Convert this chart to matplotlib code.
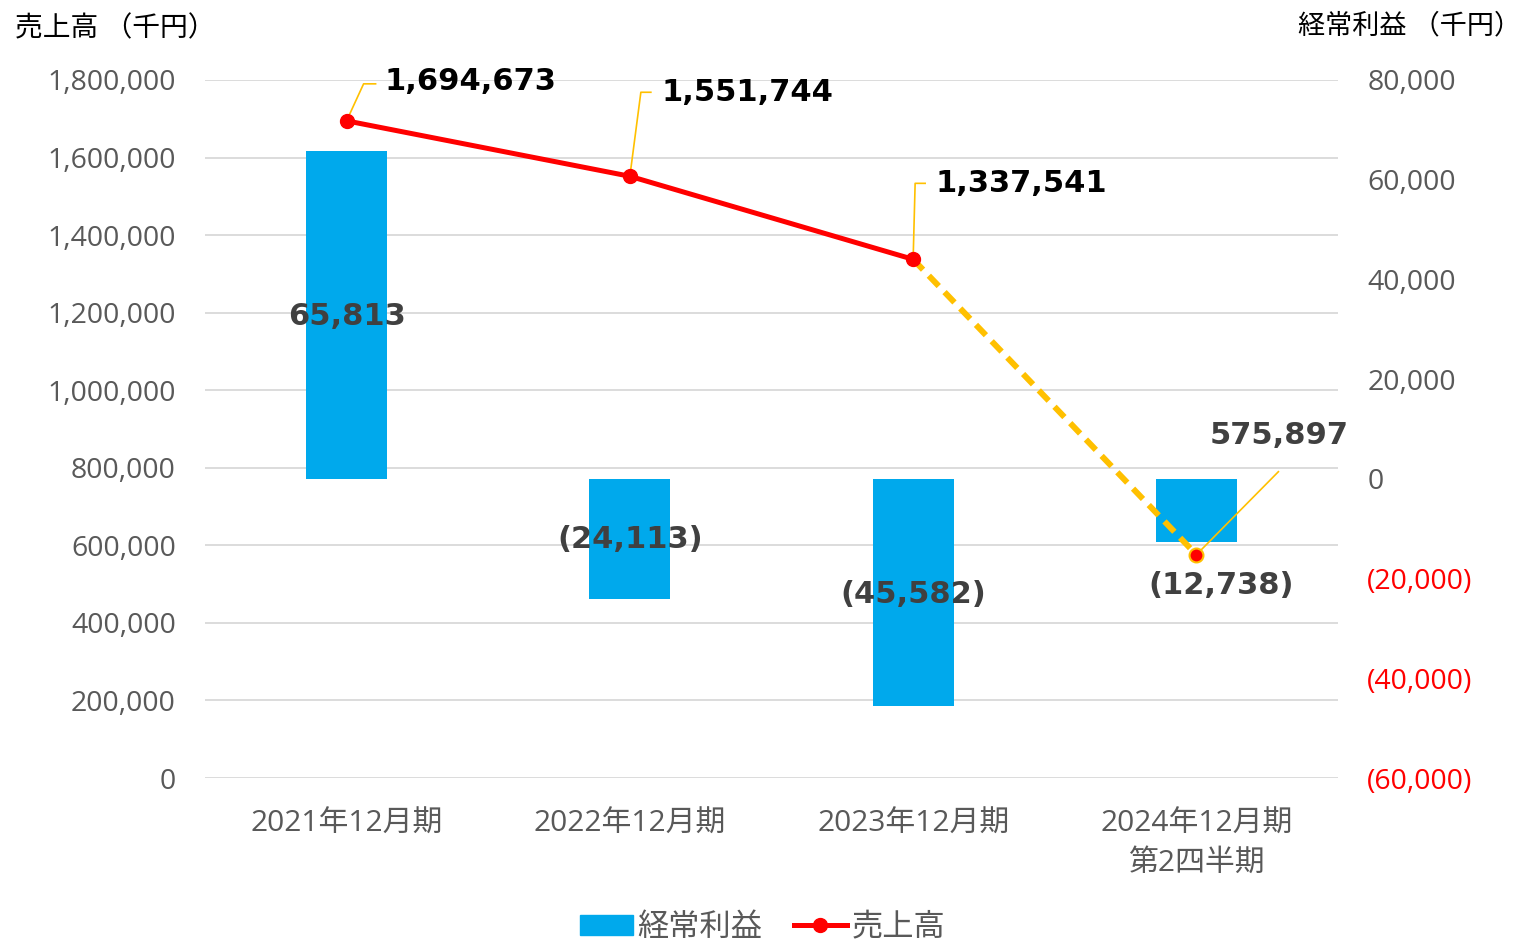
import matplotlib.pyplot as plt
from matplotlib.lines import Line2D
from matplotlib.patches import Patch
from matplotlib.transforms import blended_transform_factory
import numpy as np

plt.rcParams['font.family'] = ['Noto Sans CJK JP', 'DejaVu Sans']

categories = ['2021年12月期', '2022年12月期', '2023年12月期', '2024年12月期\n第2四半期']
sales = [1694673, 1551744, 1337541, 575897]
ordinary_profit = [65813, -24113, -45582, -12738]

left_ticks = np.arange(0, 1800001, 200000)
right_ticks = np.arange(-60000, 80001, 20000)

bar_color = '#00A9EC'
line_color = '#FF0000'
gold = '#FFC000'
gray = '#595959'
dark = '#404040'
num_font = ['Open Sans', 'Noto Sans CJK JP']
label_font = ['DejaVu Sans']

PT = 72 / 100  # points per pixel at 100 dpi


def fmt_paren(v):
    return f'({abs(v):,})' if v < 0 else f'{v:,}'


fig = plt.figure(figsize=(15.25, 9.4), dpi=100)
ax = fig.add_axes([0.1344, 0.1723, 0.7430, 0.7426])
ax2 = ax.twinx()

x = np.arange(len(categories))

# bars on the right axis
ax2.bar(x, ordinary_profit, width=0.286, color=bar_color, zorder=2)
ax2.set_ylim(-60000, 80000)
ax2.set_yticks(right_ticks)
ax2.set_yticklabels([fmt_paren(v) for v in right_ticks], fontsize=20.5,
                    family=num_font)
for lbl, v in zip(ax2.get_yticklabels(), right_ticks):
    lbl.set_color(line_color if v < 0 else gray)
ax2.tick_params(axis='y', length=0, pad=21)

# line on the left axis, above the bars
ax.set_zorder(ax2.get_zorder() + 1)
ax.patch.set_visible(False)
ax.plot(x[:3], sales[:3], color=line_color, lw=3.6, zorder=3)
ax.plot(x[2:], sales[2:], color=gold, lw=4.3, ls=(0, (2.4, 1.4)), zorder=3)
ax.plot(x[:3], sales[:3], 'o', color=line_color, ms=10, zorder=4)
ax.plot(x[3], sales[3], 'o', color=line_color, mec=gold, mew=1.5, ms=10, zorder=4)

ax.set_ylim(0, 1800000)
ax.set_xlim(-0.5, 3.5)
ax.set_yticks(left_ticks)
ax.set_yticklabels([f'{v:,}' for v in left_ticks], fontsize=20.5, color=gray,
                   family=num_font)
ax.tick_params(axis='y', length=0, pad=21)
ax.set_xticks(x)
ax.set_xticklabels(categories, fontsize=21.5, color=gray, linespacing=1.45,
                   family=num_font)
ax.tick_params(axis='x', length=0, pad=23)
for a in (ax, ax2):
    for s in a.spines.values():
        s.set_visible(False)

# gridlines of the left axis, drawn in the lower (bar) axes so they sit behind the bars
grid_tf = blended_transform_factory(ax2.transAxes, ax.transData)
for v in left_ticks:
    ax2.add_line(Line2D([0, 1], [v, v], transform=grid_tf, color='#D9D9D9',
                        lw=1.3, zorder=0))

# sales labels with elbow leader lines (pixel offsets from the marker)
text_off = [(38, 39), (32, 84), (22, 76)]
elbow_off = [(17, 37), (11, 84), (2, 76)]
end_off = [(29, 37), (21, 84), (12, 76)]
for i in range(3):
    tx, ty = text_off[i]
    ax.annotate(f'{sales[i]:,}', xy=(x[i], sales[i]), xytext=(tx * PT, ty * PT),
                textcoords='offset points', fontsize=22, fontweight='bold',
                family=label_font, color='black', ha='left', va='center', zorder=5)
    px, py = ax.transData.transform((x[i], sales[i]))
    pts = np.array([[px, py],
                    [px + elbow_off[i][0], py + elbow_off[i][1]],
                    [px + end_off[i][0], py + end_off[i][1]]])
    data_pts = ax.transData.inverted().transform(pts)
    ax.plot(data_pts[:, 0], data_pts[:, 1], color=gold, lw=1.2, zorder=3)

ax.annotate(f'{sales[3]:,}', xy=(x[3], sales[3]), xytext=(83 * PT, 119 * PT),
            textcoords='offset points', fontsize=22, fontweight='bold',
            family=label_font, color=dark, ha='center', va='center', zorder=5)
px, py = ax.transData.transform((x[3], sales[3]))
seg = ax.transData.inverted().transform([[px, py], [px + 82, py + 83]])
ax.plot(seg[:, 0], seg[:, 1], color=gold, lw=1.2, zorder=3)

# ordinary profit labels
bar_label_pos = [(0, 32600), (0, -12200), (0, -23100), (0.088, -21300)]
for i, v in enumerate(ordinary_profit):
    ox, oy = bar_label_pos[i]
    ax2.text(x[i] + ox, oy, fmt_paren(v), fontsize=22, fontweight='bold',
             family=label_font, color=dark, ha='center', va='center', zorder=5)

# axis titles
fig.text(15 / 1525, 1 - 28 / 940, '売上高 （千円）', fontsize=20, color='black',
         ha='left', va='center')
fig.text(1521 / 1525, 1 - 26 / 940, '経常利益 （千円）', fontsize=19.5, color='black',
         ha='right', va='center')

handles = [Patch(color=bar_color, label='経常利益'),
           Line2D([0], [0], color=line_color, lw=3.6, marker='o', ms=10, label='売上高')]
fig.legend(handles=handles, loc='center', bbox_to_anchor=(0.5, 1 - 927 / 940),
           ncol=2, frameon=False, fontsize=22.5, handlelength=1.7, handleheight=0.65,
           columnspacing=1.0, labelcolor=gray, handletextpad=0.15)

fig.savefig('out.png', dpi=100)
